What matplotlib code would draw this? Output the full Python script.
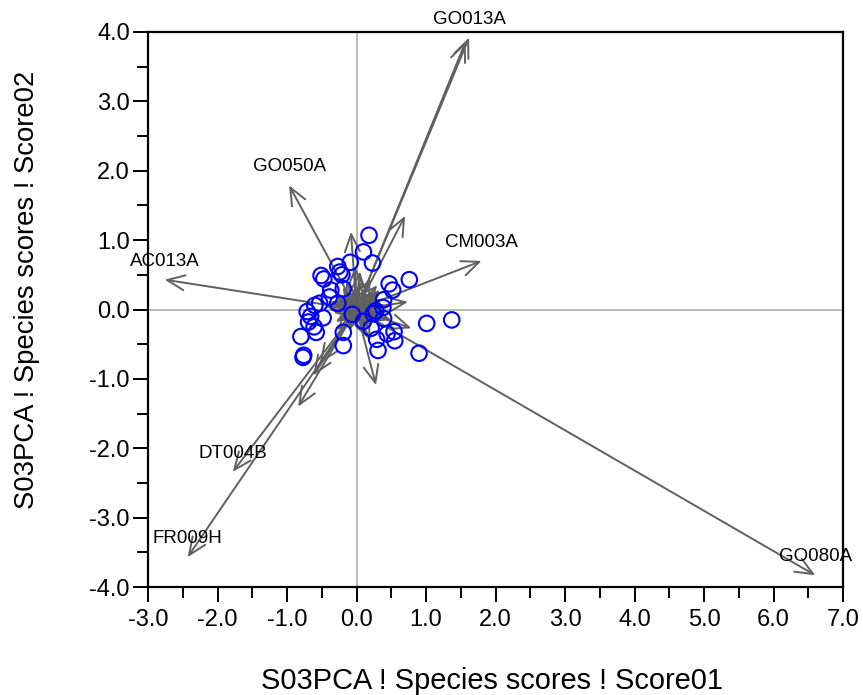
import matplotlib
matplotlib.use("Agg")
import matplotlib.pyplot as plt

plt.rcParams['font.family'] = ['Liberation Sans', 'DejaVu Sans']
plt.rcParams['axes.unicode_minus'] = False

# arter med navn (lange piler)
art_navn = ["GO013A", "", "GO080A", "FR009H", "DT004B", "AC013A", "GO050A", "CM003A"]
art_x = [1.62, 1.57, 6.60, -2.43, -1.78, -2.76, -0.97, 1.80]
art_y = [3.92, 3.86, -3.83, -3.57, -2.34, 0.43, 1.79, 0.70]

# mellomlange piler uten navn
mid_x = [0.70, 0.74, 0.79, -0.08, 0.28, -0.84, -0.53, -0.62]
mid_y = [1.35, 0.11, -0.27, 1.12, -1.09, -1.40, -0.78, -0.95]

# korte piler i midten (stjernen)
kort_x = [0.45, 0.35, 0.20, 0.05, -0.15, -0.30, -0.40, -0.25, -0.10, 0.10, 0.30, 0.42,
          0.25, -0.05, -0.20, 0.15, 0.38, -0.35, 0.05, 0.20, -0.12, 0.30, -0.28, 0.12,
          0.50, -0.45, 0.00, 0.22, -0.18, 0.08, -0.02, 0.14, -0.22, 0.32, -0.33, 0.18,
          -0.08, 0.27, -0.15, 0.40, -0.38, 0.10, -0.26, 0.34, 0.02, -0.10, 0.20, -0.30,
          0.12, -0.05, 0.28, -0.20, 0.36, 0.06]
kort_y = [0.05, 0.25, 0.45, 0.55, 0.40, 0.20, 0.00, -0.15, -0.30, -0.35, -0.20, -0.05,
          0.10, 0.30, -0.10, 0.20, 0.15, 0.10, -0.20, -0.45, 0.15, 0.35, -0.30, 0.05,
          -0.15, 0.05, -0.25, 0.00, 0.25, -0.12, 0.62, 0.32, 0.05, -0.08, -0.05, -0.28,
          0.18, 0.22, -0.22, 0.02, 0.12, 0.12, -0.02, 0.28, 0.20, 0.08, -0.10, -0.18,
          -0.22, -0.14, 0.06, 0.32, -0.12, 0.40]

# prøvescorer (sirkler)
prove_x = [0.18, 0.10, 0.23, -0.09, -0.27, -0.24, -0.21, -0.51, -0.47, -0.19, -0.37, -0.39,
           -0.27, -0.53, -0.60, -0.71, -0.66, -0.48, -0.69, -0.61, -0.58, -0.80, -0.19, -0.19,
           -0.76, -0.77, -0.06, 0.10, 0.21, 0.29, 0.31, 0.28, 0.38, 0.39, 0.47, 0.52, 0.76,
           0.39, 0.44, 0.54, 0.55, 0.90, 1.01, 1.37, 0.24]
prove_y = [1.07, 0.83, 0.67, 0.68, 0.62, 0.54, 0.50, 0.49, 0.44, 0.30, 0.28, 0.18,
           0.09, 0.09, 0.06, -0.03, -0.10, -0.12, -0.18, -0.25, -0.33, -0.39, -0.33, -0.52,
           -0.66, -0.69, -0.07, -0.17, -0.27, -0.43, -0.59, -0.02, 0.03, 0.14, 0.37, 0.28, 0.43,
           -0.13, -0.35, -0.32, -0.45, -0.63, -0.20, -0.15, -0.06]

xticks = [-3.0, -2.0, -1.0, 0.0, 1.0, 2.0, 3.0, 4.0, 5.0, 6.0, 7.0]
yticks = [-4.0, -3.0, -2.0, -1.0, 0.0, 1.0, 2.0, 3.0, 4.0]

pilfarge = "#606060"

fig = plt.figure(figsize=(8.63, 6.95), dpi=100)
ax = fig.add_axes([148/863, 1-587/695, 695/863, 555/695])

ax.axhline(0, color="#b4b4b4", lw=1.3, zorder=1)
ax.axvline(0, color="#b4b4b4", lw=1.3, zorder=1)


def pil(x, y):
    ax.annotate("", xy=(x, y), xytext=(0, 0),
                arrowprops=dict(arrowstyle="->,head_length=0.7,head_width=0.3",
                                color=pilfarge, lw=1.4, shrinkA=0, shrinkB=0,
                                mutation_scale=18),
                zorder=2)


for i in range(len(kort_x)):
    pil(kort_x[i], kort_y[i])
for i in range(len(mid_x)):
    pil(mid_x[i], mid_y[i])
for i in range(len(art_x)):
    pil(art_x[i], art_y[i])
    if art_navn[i]:
        ax.annotate(art_navn[i], xy=(art_x[i], art_y[i]), xytext=(0, 10),
                    textcoords="offset points", ha="center", va="baseline",
                    fontsize=13.5, color="black", zorder=4)

ax.scatter(prove_x, prove_y, s=125, facecolors="none", edgecolors="#0000ff",
           linewidths=1.5, zorder=3)

ax.set_xlim(-3, 7)
ax.set_ylim(-4, 4)
ax.set_xticks(xticks)
ax.set_yticks(yticks)
ax.set_xticks([v + 0.5 for v in xticks[:-1]], minor=True)
ax.set_yticks([v + 0.5 for v in yticks[:-1]], minor=True)
ax.set_xticklabels(["%.1f" % v for v in xticks])
ax.set_yticklabels(["%.1f" % v for v in yticks])
ax.tick_params(which="major", length=11, width=1.4, labelsize=17, pad=2)
ax.tick_params(axis="x", which="major", pad=5)
ax.tick_params(which="minor", length=8, width=1.4)
for s in ax.spines.values():
    s.set_linewidth(1.6)

fig.text(492/863, 1-689/695, "S03PCA ! Species scores ! Score01", ha="center",
         va="baseline", fontsize=20.9)
fig.text(27/863, 1-290/695, "S03PCA ! Species scores ! Score02", ha="center",
         va="center", rotation=90, fontsize=19.8)

fig.savefig("out.png", dpi=100)
